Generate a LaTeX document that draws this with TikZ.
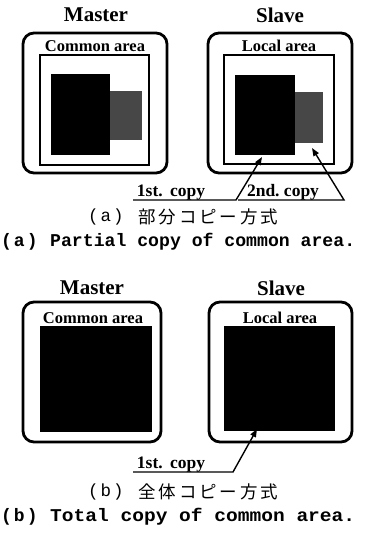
\documentclass[tikz,border=0pt]{standalone}
\usepackage{graphicx}
\usepackage{fontspec}
\setmainfont{Liberation Serif}
\newfontfamily\cjk{Noto Sans CJK JP}
\newfontfamily\monof{Liberation Mono}
\usetikzlibrary{arrows.meta}
\newcommand\jc[1]{\makebox[20.3pt]{#1}}
\begin{document}
\begin{tikzpicture}[x=1pt,y=-1pt,
  outerbox/.style={draw,line width=2.8pt,rounded corners=11pt},
  innerframe/.style={draw,line width=1.5pt},
  titletext/.style={font=\bfseries\fontsize{21}{21}\selectfont,inner sep=0pt},
  areatext/.style={font=\bfseries\fontsize{16.5}{17}\selectfont,inner sep=0pt},
  solidblock/.style={fill=black},
  greyblock/.style={fill=black!72},
  copytext/.style={font=\bfseries\fontsize{17.5}{18}\selectfont,inner sep=0pt,anchor=base},
  leader/.style={line width=1.4pt},
  tipped/.style={-{Triangle[length=8pt,width=6pt]}},
  capjp/.style={font=\cjk\fontsize{17.5}{18}\selectfont,inner sep=0pt,anchor=west},
  capen/.style={font=\monof\bfseries\fontsize{18}{18}\selectfont,inner sep=0pt,anchor=west}
]
\useasboundingbox (0,0) rectangle (369,533);
% ---------- (a) ----------
\node[titletext] (mA) at (96,15) {Master};
\node[titletext] (sA) at (280,15) {Slave};
\draw[outerbox] (23,33) rectangle (167,173);
\draw[outerbox] (208,33) rectangle (352,173);
\node[areatext] (caA) at (95,46) {Common area};
\node[areatext] (laA) at (279,46) {Local area};
\draw[innerframe] (40,55) rectangle (149,165);
\draw[innerframe] (224,55) rectangle (334,164);
\fill[greyblock] (110,91) rectangle (142,140);
\fill[solidblock] (51,74) rectangle (110,155);
\fill[greyblock] (295,92) rectangle (323,143);
\fill[solidblock] (235,75) rectangle (295,155);
\node[copytext] (c1A) at (171,196) {1st.\ \,copy};
\node[copytext] (c2A) at (283,196) {2nd.\ copy};
\coordinate (u1s) at (133,200);
\coordinate (u1e) at (236,200);
\coordinate (t1) at (262,157);
\coordinate (u2s) at (238,200);
\coordinate (u2e) at (344,200);
\coordinate (t2) at (312,148);
\draw[leader,tipped] (u1s) -- (u1e) -- (t1);
\draw[leader,tipped] (u2s) -- (u2e) -- (t2);
\node[capjp] (pa1) at (88,217) {\monof(\kern2pt a\kern2pt)};
\node[capjp] (ja) at (137,217) {\jc{部}\jc{分}\jc{コ}\jc{ピ}\jc{ー}\jc{方}\jc{式}};
\node[capen] (pa2) at (1,242) {(\kern2pt a\kern2pt)};
\node[capen] (ea) at (50,242) {\resizebox{305pt}{\height}{Partial copy of common area.}};
% ---------- (b) ----------
\node[titletext] (mB) at (92,288) {Master};
\node[titletext] (sB) at (281,288) {Slave};
\draw[outerbox] (23,302) rectangle (161,442);
\draw[outerbox] (209,302) rectangle (352,442);
\node[areatext] (caB) at (93,318) {Common area};
\node[areatext] (laB) at (280,318) {Local area};
\fill[solidblock] (40,326) rectangle (152,432);
\fill[solidblock] (224,326) rectangle (335,431);
\node[copytext] (c1B) at (171,468) {1st.\ \,copy};
\coordinate (u3s) at (133,472);
\coordinate (u3e) at (233,472);
\coordinate (t3) at (257,429);
\draw[leader,tipped] (u3s) -- (u3e) -- (t3);
\node[capjp] (pb1) at (88,492) {\monof(\kern2pt b\kern2pt)};
\node[capjp] (jb) at (137,492) {\jc{全}\jc{体}\jc{コ}\jc{ピ}\jc{ー}\jc{方}\jc{式}};
\node[capen] (pb2) at (1,517) {(\kern2pt b\kern2pt)};
\node[capen] (eb) at (50,517) {\resizebox{305pt}{\height}{Total copy of common area.}};
\end{tikzpicture}
\end{document}
